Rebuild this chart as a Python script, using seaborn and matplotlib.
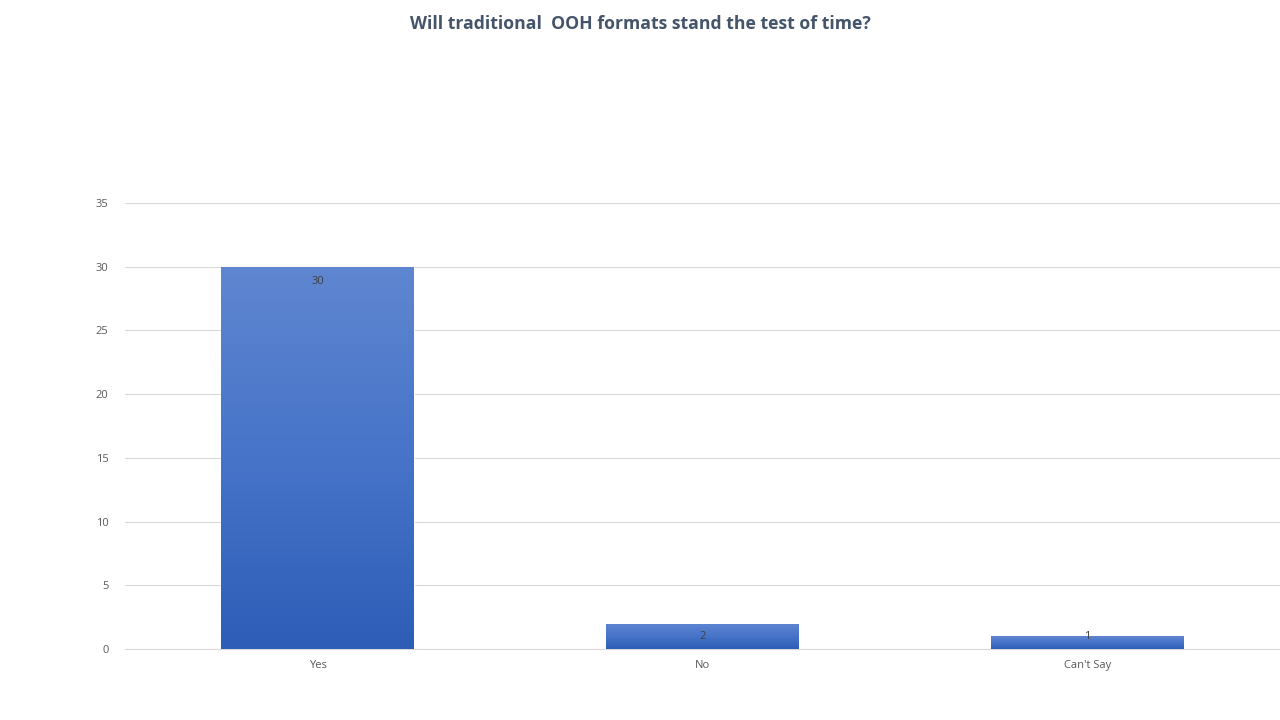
import numpy as np
import pandas as pd
import matplotlib.pyplot as plt
import seaborn as sns
from matplotlib.colors import LinearSegmentedColormap

# data
answers = ["Yes", "No", "Can't Say"]
counts = [30, 2, 1]

sns.set_style("white")
plt.rcParams['font.family'] = ['Open Sans', 'DejaVu Sans']

df = pd.DataFrame({'answer': answers, 'count': counts})

fig = plt.figure(figsize=(12.8, 7.2), dpi=100)
ax = fig.add_axes([0.0977, 0.0986, 0.9023, 0.6194])

sns.barplot(data=df, x='answer', y='count', color='#4472C4', width=0.5,
            saturation=1, ax=ax, zorder=3)

# vertical gradient fill like the original office chart
grad = LinearSegmentedColormap.from_list('bar', ['#2D5DB7', '#4774C9', '#5F86D0'])
gimg = np.linspace(0, 1, 256).reshape(-1, 1)
for patch in ax.patches:
    x0, y0 = patch.get_x(), patch.get_y()
    w, h = patch.get_width(), patch.get_height()
    im = ax.imshow(gimg, cmap=grad, origin='lower', aspect='auto',
                   extent=[x0, x0 + w, y0, y0 + h], zorder=3.5)
    im.set_clip_path(patch)

# value labels just inside the top of each bar (kept off the baseline)
for i, v in enumerate(counts):
    ax.text(i, max(v - 1.12, 0.95), str(v), ha='center', va='center',
            fontsize=8, color='#404040', zorder=5)

ax.set_xlim(-0.5, 2.5)
ax.set_ylim(0, 35)
ax.set_yticks(range(0, 36, 5))
ax.yaxis.grid(True, color='#D9D9D9', linewidth=0.8, zorder=0)
ax.set_axisbelow(True)
ax.set_xlabel('')
ax.set_ylabel('')
ax.tick_params(axis='both', length=0, labelsize=8, labelcolor='#595959')
ax.tick_params(axis='y', pad=12)
ax.tick_params(axis='x', pad=8)
for side in ['top', 'right', 'left']:
    ax.spines[side].set_visible(False)
ax.spines['bottom'].set_color('#D9D9D9')
ax.spines['bottom'].set_linewidth(0.8)

fig.text(0.5, 0.966, 'Will traditional  OOH formats stand the test of time?',
         ha='center', va='center', fontsize=12.7, fontweight='bold', color='#44546A')

fig.savefig('out.png', dpi=100)
plt.close(fig)
